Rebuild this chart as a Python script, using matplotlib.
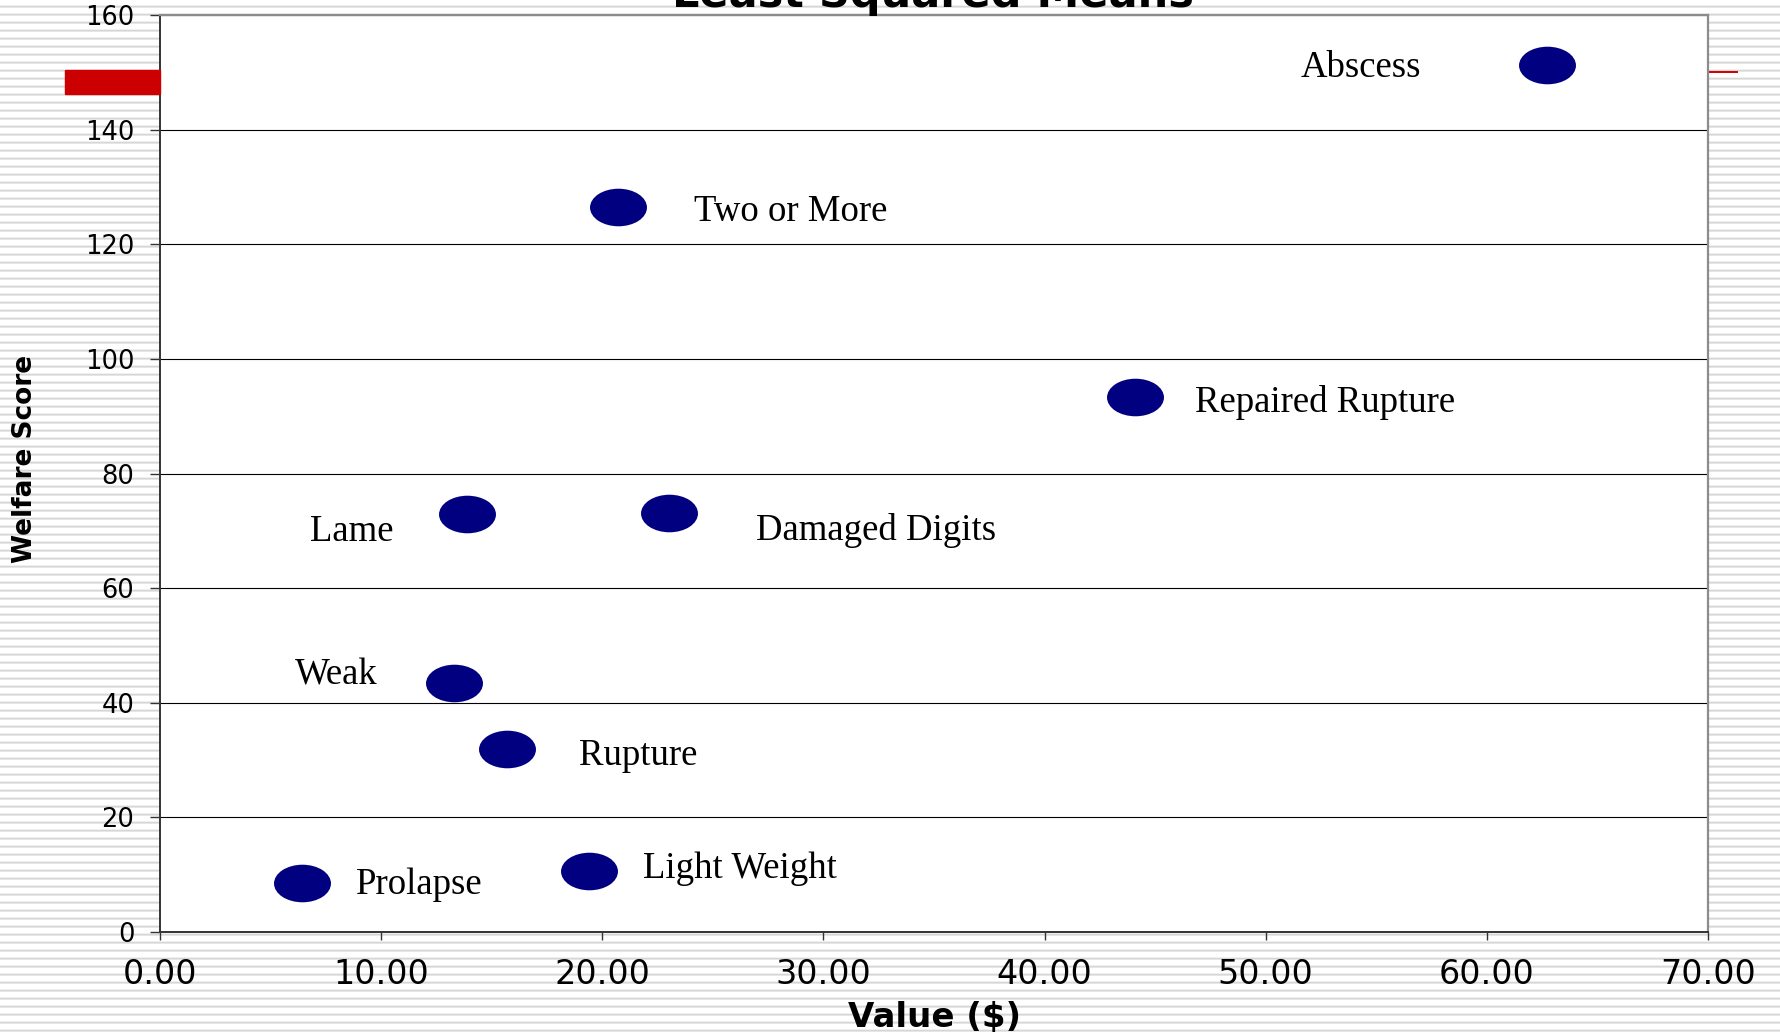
import numpy as np
import matplotlib
matplotlib.use("Agg")
import matplotlib.pyplot as plt
from matplotlib.path import Path
from matplotlib.patches import Rectangle
from matplotlib.lines import Line2D

# least squared means: value ($) vs welfare score
CONDITIONS = ["Abscess", "Two or More", "Repaired Rupture", "Lame", "Damaged Digits",
              "Weak", "Rupture", "Prolapse", "Light Weight"]
VALUE = [62.7, 20.7, 44.1, 13.9, 23.0, 13.3, 15.7, 6.4, 19.4]
WELFARE = [151.3, 126.5, 93.3, 72.9, 73.1, 43.4, 31.9, 8.5, 10.7]

X_TICKS = [0, 10, 20, 30, 40, 50, 60, 70]
Y_TICKS = [0, 20, 40, 60, 80, 100, 120, 140, 160]

# label placement relative to each dot (points, alignment)
LABEL_OFFSETS = [(-90, -9, "right"), (55, -10, "left"), (43, -10.5, "left"),
                 (-53, -19, "right"), (63, -19.5, "left"), (-55, -1, "right"),
                 (52, -11.5, "left"), (39, -7.5, "left"), (39, -5, "left")]

W, H = 1780, 1035
fig = plt.figure(figsize=(W / 100, H / 100), dpi=100)

# striped slide background
bg = fig.add_axes([0, 0, 1, 1], zorder=-10)
row = np.array([255, 255, 255, 255, 255, 240, 214, 230]) / 255
stripes = np.tile(row, H // 8 + 1)[:H]
bg.imshow(np.repeat(stripes[:, None], 4, axis=1), cmap="gray", vmin=0, vmax=1,
          aspect="auto", interpolation="nearest", extent=(0, 1, 0, 1))
bg.set_axis_off()

left, right, top, bottom = 160, 1708, 15, 932
ax = fig.add_axes([left / W, 1 - bottom / H, (right - left) / W, (bottom - top) / H])
ax.set_facecolor("white")

# ellipse-shaped marker
circ = Path.unit_circle()
ell = Path(circ.vertices * np.array([1.0, 0.66]), circ.codes)
ax.plot(VALUE, WELFARE, linestyle="none", marker=ell, markersize=41,
        color="#000080", markeredgewidth=0, zorder=3)

for name, x, y, (dx, dy, ha) in zip(CONDITIONS, VALUE, WELFARE, LABEL_OFFSETS):
    ax.annotate(name, (x, y), xytext=(dx, dy), textcoords="offset points",
                ha=ha, va="baseline", fontsize=26.5, family="Liberation Serif",
                color="black", zorder=4)

ax.set_xlim(0, 70)
ax.set_ylim(0, 160)
ax.set_xticks(X_TICKS)
ax.set_yticks(Y_TICKS)
ax.set_xticklabels([f"{v:.2f}" for v in X_TICKS], fontsize=24, family="DejaVu Sans")
ax.set_yticklabels([str(v) for v in Y_TICKS], fontsize=18.5, family="DejaVu Sans")
ax.tick_params(axis="x", direction="out", length=6, width=1, pad=13, color="#333333")
ax.tick_params(axis="y", direction="out", length=7.5, width=1, pad=11, color="#333333")
ax.grid(axis="y", color="black", linewidth=0.8)
ax.set_axisbelow(True)

for s in ["left", "bottom"]:
    ax.spines[s].set_color("#333333")
    ax.spines[s].set_linewidth(1.4)
for s in ["top", "right"]:
    ax.spines[s].set_color("#8c8c8c")
    ax.spines[s].set_linewidth(1.6)

ax.set_xlabel("Value ($)", fontsize=24.5, fontweight="bold", family="DejaVu Sans")
ax.xaxis.set_label_coords(0.5, (bottom - 1018) / (bottom - top))
ax.xaxis.label.set_va("center")
ax.set_ylabel("Welfare Score", fontsize=19, fontweight="bold", family="DejaVu Sans")
ax.yaxis.set_label_coords((25 - left) / (right - left), (bottom - 459) / (bottom - top))
ax.yaxis.label.set_va("center")

# title, clipped at the top of the slide
fig.text(933 / W, 1 - 7 / H, "Least Squared Means", ha="center", va="baseline",
         fontsize=31, fontweight="bold", family="DejaVu Sans", zorder=5)

# red slide decorations
fig.add_artist(Rectangle((65 / W, 1 - 94 / H), 95 / W, 24 / H,
                         transform=fig.transFigure, color="#cc0000", zorder=5))
fig.add_artist(Line2D([1710 / W, 1737 / W], [1 - 72 / H, 1 - 72 / H],
                      transform=fig.transFigure, color="#cc0000", linewidth=1.4, zorder=5))

fig.savefig("out.png", dpi=100)
